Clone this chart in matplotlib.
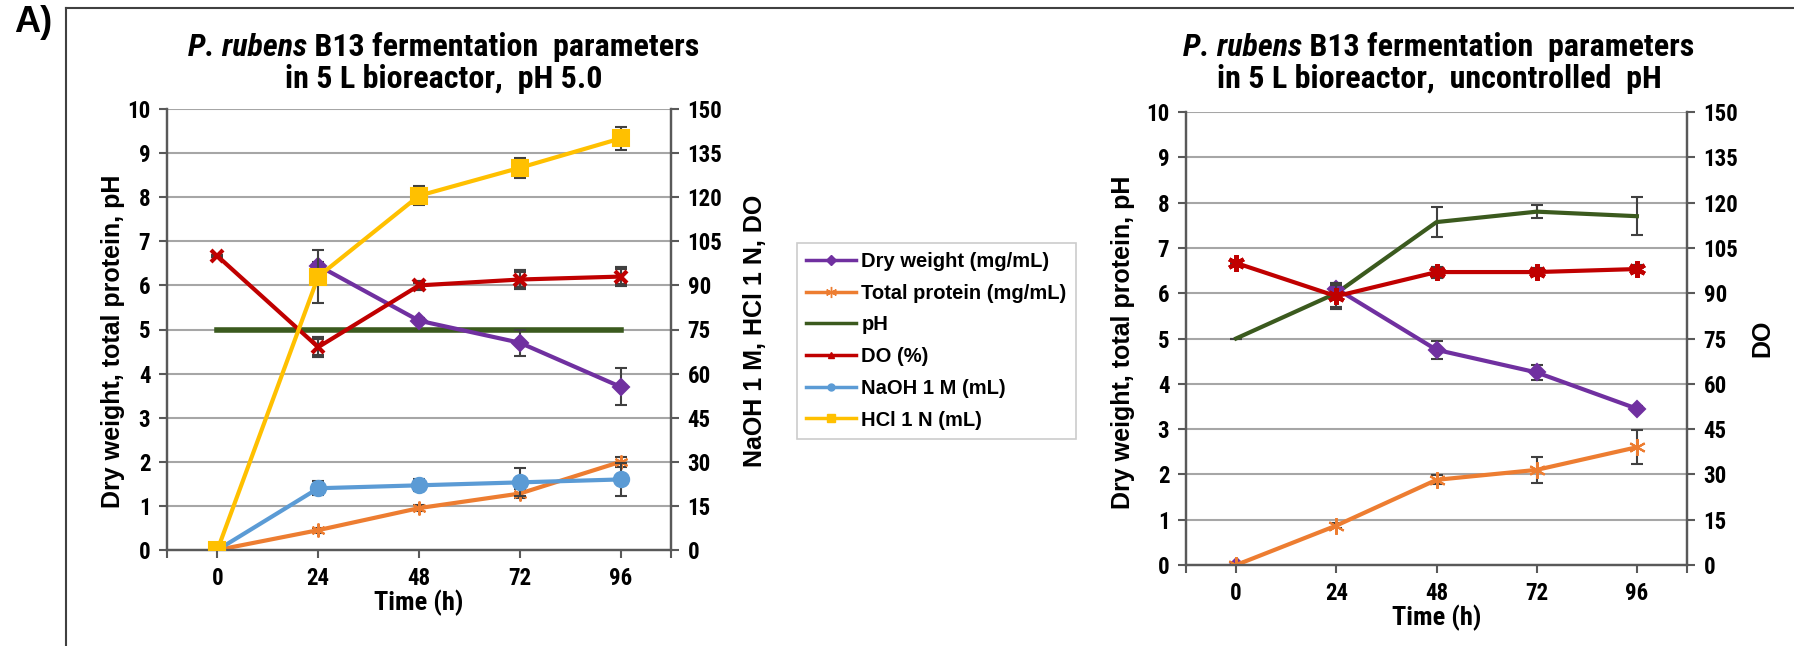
import os
import numpy as np
import matplotlib
matplotlib.use("Agg")
import matplotlib.pyplot as plt
from matplotlib import font_manager
from matplotlib.font_manager import FontProperties
from matplotlib.lines import Line2D

time = [0, 24, 48, 72, 96]

# pH 5.0 run (left chart)
dw1 = [np.nan, 6.45, 5.2, 4.7, 3.7]
dw1_err = [0, 0.08, 0.05, 0.3, 0.42]
tp1 = [0, 0.45, 0.95, 1.28, 2.0]
tp1_err = [0, 0.06, 0.06, 0.1, 0.12]
ph1 = [5, 5, 5, 5, 5]
do1 = [100, 69, 90, 92, 93]
do1_err = [0, 3, 1.2, 3, 3]
naoh1 = [0, 21, 22, 23, 24]
naoh1_err = [0, 2.3, 2, 4.8, 5.7]
hcl1 = [0, 93, 120.5, 130, 140]
hcl1_err = [0, 9, 3.3, 3.5, 3.8]

# uncontrolled pH run (right chart)
dw2 = [np.nan, 6.1, 4.75, 4.25, 3.45]
dw2_err = [0, 0.1, 0.2, 0.17, 0.05]
dw2_t0 = 0.0  # lone marker at t = 0, not joined to the line
tp2 = [0, 0.87, 1.88, 2.1, 2.6]
tp2_err = [0, 0.05, 0.1, 0.28, 0.37]
ph2 = [5.0, 6.0, 7.57, 7.8, 7.7]
ph2_err = [0, 0, 0.33, 0.15, 0.42]
do2 = [100, 89, 97, 97, 98]
do2_err = [0, 4, 1.5, 1, 1]

legend_labels = ['Dry weight (mg/mL)', 'Total protein (mg/mL)', 'pH', 'DO (%)',
                 'NaOH 1 M (mL)', 'HCl 1 N (mL)']

c_dw = '#7030A0'
c_tp = '#ED7D31'
c_ph = '#3B5A1E'
c_do = '#C00000'
c_na = '#5B9BD5'
c_hc = '#FFC000'
c_err = '#404040'
c_ax = '#595959'


# look for a narrow / condensed bold face (Arial Narrow look-alike)
def narrow_file(italic):
    prefs = ['liberationsansnarrow', 'arialnarrow', 'robotocondensed',
             'notosans-condensed', 'opensans_condensed', 'opensanscondensed',
             'dejavusanscondensed']
    files = [f.fname for f in font_manager.fontManager.ttflist]
    for p in prefs:
        for fn in files:
            b = os.path.basename(fn).lower().replace(' ', '')
            if not b.startswith(p) or 'bold' not in b:
                continue
            if any(k in b for k in ('semi', 'extra', 'light')):
                continue
            it = ('italic' in b) or ('oblique' in b)
            if it == italic:
                return fn
    return None


nf = narrow_file(False)
nfi = narrow_file(True)


def nprop(size, italic=False):
    fn = nfi if italic else nf
    if fn:
        return FontProperties(fname=fn, size=size)
    return FontProperties(family='Liberation Sans', weight='bold',
                          style='italic' if italic else 'normal', size=size * 0.85)


W, H = 1794, 646
fig = plt.figure(figsize=(W / 100, H / 100), dpi=100)


def series(ax, y, err, color, marker, ms, lw=3, mew=1.5, z=3):
    ax.errorbar(time, y, yerr=err, color=color, lw=lw, marker=marker, ms=ms,
                mfc=color, mec=color, mew=mew, ecolor=c_err, elinewidth=1.5,
                capsize=4, capthick=1.5, zorder=z)


def setup(ax, axr):
    ax.set_xlim(-12, 108)
    ax.set_ylim(0, 10)
    ax.set_yticks(range(0, 11))
    ax.set_xticks(time)
    ax.set_xticks([-12, 108], minor=True)
    axr.set_ylim(0, 150)
    axr.set_yticks(range(0, 151, 15))
    ax.yaxis.grid(True, color='#a6a6a6', lw=1.5)
    ax.set_axisbelow(True)
    for a in (ax, axr):
        a.spines['top'].set_visible(False)
        for s in ('left', 'right', 'bottom'):
            a.spines[s].set_color(c_ax)
            a.spines[s].set_linewidth(1.6)
        a.tick_params(which='both', direction='out', length=6, width=1.5,
                      color=c_ax, pad=6)
        for lab in a.get_xticklabels() + a.get_yticklabels():
            lab.set_fontproperties(nprop(16.5))
    ax.set_xlabel('Time (h)', fontproperties=nprop(19), labelpad=0)


# left chart
ax1 = fig.add_axes([167 / W, 1 - 550 / H, 504 / W, 441 / H])
ax1r = ax1.twinx()
setup(ax1, ax1r)
ax1.plot(time, ph1, color=c_ph, lw=4, zorder=2)
series(ax1, tp1, tp1_err, c_tp, (6, 2, 0), 10, mew=1.5)
series(ax1, dw1, dw1_err, c_dw, 'D', 8)
series(ax1r, naoh1, naoh1_err, c_na, 'o', 11)
series(ax1r, do1, do1_err, c_do, 'x', 9, mew=3)
series(ax1r, hcl1, hcl1_err, c_hc, 's', 11)

# right chart
ax2 = fig.add_axes([1186 / W, 1 - 565 / H, 501 / W, 453 / H])
ax2r = ax2.twinx()
setup(ax2, ax2r)
series(ax2, ph2, ph2_err, c_ph, None, 0)
ax2.plot([time[0]], [dw2_t0], ls='none', marker='D', ms=8, color=c_dw, zorder=3)
series(ax2, tp2, tp2_err, c_tp, (6, 2, 0), 12, mew=1.5)
series(ax2, dw2, dw2_err, c_dw, 'D', 8)
series(ax2r, do2, do2_err, c_do, (6, 2, 0), 12, mew=3)

# titles: italic species name followed by upright text, centred together
renderer = fig.canvas.get_renderer()
for xc, y1, y2, sub in [(444, 47, 79, 'in 5 L bioreactor,  pH 5.0'),
                        (1439, 47, 79, 'in 5 L bioreactor,  uncontrolled  pH')]:
    ta = fig.text(0, 1 - y1 / H, 'P. rubens', ha='left', va='center',
                  fontproperties=nprop(23, italic=True))
    tb = fig.text(0, 1 - y1 / H, ' B13 fermentation  parameters', ha='left',
                  va='center', fontproperties=nprop(23))
    wa = ta.get_window_extent(renderer).width
    wb = tb.get_window_extent(renderer).width
    x0 = xc - (wa + wb) / 2
    ta.set_x(x0 / W)
    tb.set_x((x0 + wa) / W)
    fig.text(xc / W, 1 - y2 / H, sub, ha='center', va='center',
             fontproperties=nprop(23))

ylab = dict(rotation=90, ha='center', va='center', fontfamily='Liberation Sans',
            fontweight='bold', fontsize=18)
fig.text(113 / W, 1 - 341 / H, 'Dry weight, total protein, pH', **ylab)
fig.text(755 / W, 1 - 331 / H, 'NaOH 1 M, HCl 1 N, DO', **ylab)
fig.text(1123 / W, 1 - 342 / H, 'Dry weight, total protein, pH', **ylab)
fig.text(1762 / W, 1 - 338 / H, 'DO', **ylab)

fig.text(14 / W, 1 - 23 / H, 'A)', ha='left', va='center',
         fontfamily='Liberation Sans', fontweight='bold', fontsize=26)

# frame around panel
fig.add_artist(Line2D([66 / W, 66 / W], [0, 1 - 8 / H], color='#404040', lw=1.5))
fig.add_artist(Line2D([66 / W, 1], [1 - 8 / H, 1 - 8 / H], color='#404040', lw=1.5))

# legend
handles = [
    Line2D([], [], color=c_dw, lw=2.5, marker='D', ms=5),
    Line2D([], [], color=c_tp, lw=2.5, marker=(6, 2, 0), ms=8),
    Line2D([], [], color=c_ph, lw=2.5),
    Line2D([], [], color=c_do, lw=2.5, marker='^', ms=5),
    Line2D([], [], color=c_na, lw=2.5, marker='o', ms=5),
    Line2D([], [], color=c_hc, lw=2.5, marker='s', ms=6),
]
leg = fig.legend(handles, legend_labels, loc='upper left',
                 bbox_to_anchor=(797 / W, 1 - 243 / H), borderaxespad=0,
                 prop=dict(family='Liberation Sans', weight='bold', size=14.5),
                 frameon=True, fancybox=False, edgecolor='#bfbfbf',
                 handlelength=2.5, handletextpad=0.25, labelspacing=0.63,
                 borderpad=0.45)
leg.get_frame().set_linewidth(1.2)

fig.savefig('out.png', dpi=100)
